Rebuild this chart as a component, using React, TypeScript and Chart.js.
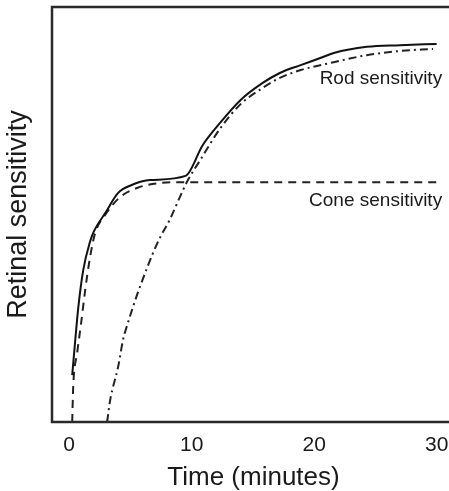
import React, { useEffect, useRef } from "react";
import { Chart, registerables } from "chart.js";

Chart.register(...registerables);

// Combined (solid) curve
const combinedT = [0.25, 0.5, 0.75, 1.15, 1.7, 2.0, 3.0, 4.0, 5.1, 6.6, 9.5, 10.9, 12.3, 14.0, 15.8, 17.2, 18.9, 20.5, 21.6, 24.3, 27.0, 30.0];
const combinedS = [11.3, 19.8, 27.7, 36.6, 43.4, 45.8, 50.6, 55.2, 57.1, 58.3, 59.3, 66.7, 72.0, 77.6, 81.7, 84.1, 86.0, 87.7, 88.9, 90.4, 90.8, 91.1];

// Cone sensitivity (dashed)
const coneT = [0.25, 0.33, 0.65, 0.98, 1.31, 1.71, 2.12, 2.94, 4.16, 5.55, 7.43, 9.5, 30.0];
const coneS = [0, 8.4, 16.6, 23.9, 31.8, 39.8, 45.5, 49.9, 54.2, 56.4, 57.6, 57.8, 57.8];

// Rod sensitivity (dash-dot)
const rodT = [3.1, 3.35, 4.0, 4.4, 4.8, 5.6, 7.2, 8.2, 9.3, 9.7, 10.7, 12.3, 14.0, 15.8, 17.2, 18.9, 21.6, 24.3, 27.0, 29.7];
const rodS = [0, 5.3, 13.3, 19.8, 23.9, 31.1, 43.1, 48.7, 55.9, 58.3, 63.1, 70.6, 76.6, 80.5, 82.9, 84.8, 86.7, 88.4, 89.4, 89.9];

const xTicks = [0, 10, 20, 30];

const labelTexts = ["Rod sensitivity", "Cone sensitivity"];
const labelT = [30.45, 30.45];
const labelS = [82.8, 53.4];

const FONT = '"Liberation Sans", Arial, Helvetica, sans-serif';

const toPts = (xs: number[], ys: number[]) => xs.map((x, i) => ({ x, y: ys[i] }));

export default function App() {
  const ref = useRef<HTMLCanvasElement | null>(null);

  useEffect(() => {
    if (!ref.current) return;
    const framePlugin = {
      id: "frame",
      afterDraw(chart: any) {
        const { ctx, chartArea: a } = chart;
        const w = chart.width;
        ctx.save();
        ctx.strokeStyle = "#2a2a2a";
        ctx.lineWidth = 2.5;
        ctx.beginPath();
        ctx.moveTo(w + 4, a.top);
        ctx.lineTo(a.left, a.top);
        ctx.lineTo(a.left, a.bottom);
        ctx.lineTo(w + 4, a.bottom);
        ctx.stroke();
        ctx.restore();
      },
    };
    const textPlugin = {
      id: "curveLabels",
      afterDatasetsDraw(chart: any) {
        const { ctx, scales } = chart;
        ctx.save();
        ctx.font = `19px ${FONT}`;
        ctx.fillStyle = "#1a1a1a";
        ctx.textAlign = "right";
        ctx.textBaseline = "middle";
        labelTexts.forEach((t, i) => {
          ctx.fillText(t, scales.x.getPixelForValue(labelT[i]), scales.y.getPixelForValue(labelS[i]));
        });
        ctx.restore();
      },
    };
    const chart = new Chart(ref.current, {
      type: "line",
      data: {
        datasets: [
          {
            label: "Combined",
            data: toPts(combinedT, combinedS),
            borderColor: "#111",
            borderWidth: 2,
            pointRadius: 0,
            cubicInterpolationMode: "monotone",
          },
          {
            label: "Cone sensitivity",
            data: toPts(coneT, coneS),
            borderColor: "#222",
            borderWidth: 2,
            borderDash: [8, 6],
            pointRadius: 0,
            cubicInterpolationMode: "monotone",
          },
          {
            label: "Rod sensitivity",
            data: toPts(rodT, rodS),
            borderColor: "#222",
            borderWidth: 2,
            borderDash: [8, 4, 2, 4],
            pointRadius: 0,
            cubicInterpolationMode: "monotone",
          },
        ],
      },
      options: {
        responsive: false,
        animation: false,
        devicePixelRatio: 1,
        layout: { padding: { top: 7, right: 5, left: 0, bottom: 0 } },
        plugins: { legend: { display: false }, tooltip: { enabled: false } },
        scales: {
          x: {
            type: "linear",
            min: -1.4,
            max: 31.5,
            grid: { display: false, drawTicks: false },
            border: { display: false },
            afterBuildTicks: (s: any) => {
              s.ticks = xTicks.map((v) => ({ value: v }));
            },
            afterFit: (s: any) => {
              s.height = 69;
              s.paddingLeft = 0;
              s.paddingRight = 0;
            },
            ticks: {
              padding: 11,
              color: "#1a1a1a",
              font: { family: FONT, size: 21 },
              callback: (v: any) => String(v),
            },
            title: {
              display: true,
              text: "Time (minutes)",
              color: "#1a1a1a",
              font: { family: FONT, size: 26, lineHeight: 1 },
              padding: { top: 0, bottom: 0 },
            },
          },
          y: {
            min: 0,
            max: 100,
            grid: { display: false, drawTicks: false },
            border: { display: false },
            ticks: { display: false },
            afterFit: (s: any) => {
              s.width = 52;
              s.paddingTop = 0;
              s.paddingBottom = 0;
            },
            title: {
              display: true,
              text: "Retinal sensitivity",
              color: "#1a1a1a",
              font: { family: FONT, size: 27, lineHeight: 1 },
              padding: { top: 5, bottom: 0 },
            },
          },
        },
      },
      plugins: [framePlugin, textPlugin],
    } as any);
    return () => chart.destroy();
  }, []);

  return (
    <div style={{ position: "fixed", left: 0, top: 0, width: 449, height: 491, overflow: "hidden", background: "#fff" }}>
      <canvas ref={ref} width={460} height={491} style={{ display: "block", width: 460, height: 491 }} />
    </div>
  );
}
